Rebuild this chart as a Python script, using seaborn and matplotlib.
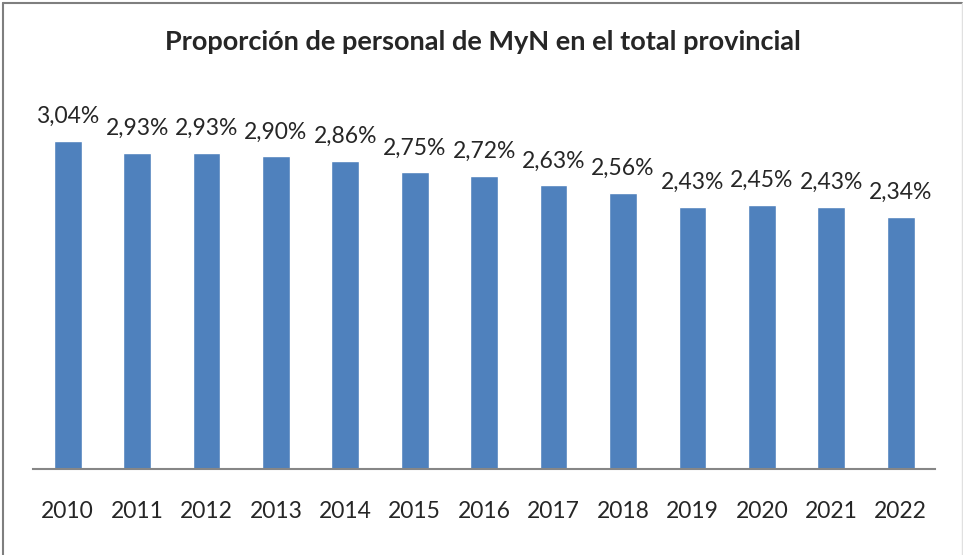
import matplotlib.pyplot as plt
import pandas as pd
import seaborn as sns
from matplotlib.lines import Line2D

# Data
years = ['2010', '2011', '2012', '2013', '2014', '2015', '2016',
         '2017', '2018', '2019', '2020', '2021', '2022']
proporcion = [3.04, 2.93, 2.93, 2.90, 2.86, 2.75, 2.72,
              2.63, 2.56, 2.43, 2.45, 2.43, 2.34]
labels = ['3,04%', '2,93%', '2,93%', '2,90%', '2,86%', '2,75%', '2,72%',
          '2,63%', '2,56%', '2,43%', '2,45%', '2,43%', '2,34%']

df = pd.DataFrame({'Año': years, 'Proporción': proporcion})

sns.set_style('white')
plt.rcParams['font.family'] = ['Lato', 'DejaVu Sans']

fig = plt.figure(figsize=(9.63, 5.55), dpi=100)
ax = fig.add_axes([0.0343, 0.155, 0.937, 0.68])

sns.barplot(data=df, x='Año', y='Proporción', color='#4F81BD',
            saturation=1, width=0.40, ax=ax)

ax.bar_label(ax.containers[0], labels=labels, padding=10, fontsize=16.5)

ax.set_ylim(0, 3.5)
ax.set_xlim(-0.5, len(years) - 0.5)
ax.set_xlabel('')
ax.set_ylabel('')
ax.set_yticks([])
ax.tick_params(axis='x', length=0, pad=23, labelsize=16.5)
for side in ['top', 'right', 'left']:
    ax.spines[side].set_visible(False)
ax.spines['bottom'].set_color('#868686')
ax.spines['bottom'].set_linewidth(1.5)

fig.text(0.5015, 0.924, 'Proporción de personal de MyN en el total provincial',
         ha='center', va='center', fontsize=19.5, fontweight='bold')

# chart frame
fig.add_artist(Line2D([0.003, 0.003], [0, 0.995], transform=fig.transFigure,
                      color='#7F7F7F', linewidth=1.5))
fig.add_artist(Line2D([0.003, 0.999], [0.995, 0.995], transform=fig.transFigure,
                      color='#7F7F7F', linewidth=1.5))
fig.add_artist(Line2D([0.999, 0.999], [0, 0.995], transform=fig.transFigure,
                      color='#E0E0E0', linewidth=1))

fig.savefig('out.png', dpi=100)
